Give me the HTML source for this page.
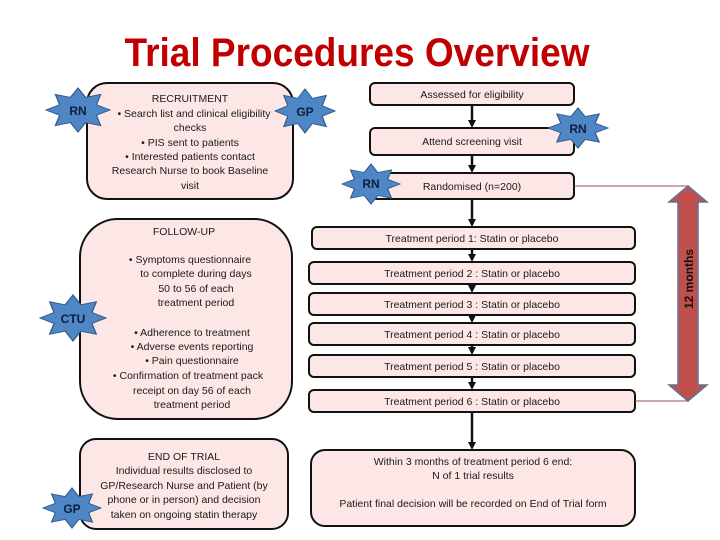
<!DOCTYPE html>
<html><head><meta charset="utf-8"><style>
html,body{margin:0;padding:0;background:#fff;}
svg{display:block;}
text{font-family:"Liberation Sans",sans-serif;fill:#1a1a1a;}
.t{font-size:10.5px;text-anchor:middle;}
.b{fill:#fde6e6;stroke:#111;stroke-width:2;}
.star{fill:#4f86c6;stroke:#2e5a8a;}
.sl{font-size:12px;font-weight:bold;text-anchor:middle;fill:#0d1f3a;}
</style></head><body>
<svg width="720" height="540" viewBox="0 0 720 540" xmlns="http://www.w3.org/2000/svg">
<defs>
<polygon id="st" points="1,0 .573,.237 .707,.707 .237,.573 0,1 -.237,.573 -.707,.707 -.573,.237 -1,0 -.573,-.237 -.707,-.707 -.237,-.573 0,-1 .237,-.573 .707,-.707 .573,-.237"/>
<marker id="ah" markerWidth="8" markerHeight="8" refX="5" refY="4" orient="auto" markerUnits="userSpaceOnUse"><path d="M0,0 L8,4 L0,8 z" fill="#111"/></marker>
</defs>
<text x="357" y="66" style="font-size:40px;font-weight:bold;fill:#c00000;text-anchor:middle" textLength="465" lengthAdjust="spacingAndGlyphs">Trial Procedures Overview</text>

<rect class="b" x="87" y="83" width="206" height="116" rx="20"/>
<text class="t" x="190" y="102">RECRUITMENT</text>
<text class="t" x="194" y="117">•  Search list and clinical eligibility</text>
<text class="t" x="190" y="131">checks</text>
<text class="t" x="190" y="146">•  PIS sent to patients</text>
<text class="t" x="190" y="160">•  Interested patients contact</text>
<text class="t" x="190" y="174">Research Nurse to book Baseline</text>
<text class="t" x="190" y="189">visit</text>

<rect class="b" x="80" y="219" width="212" height="200" rx="38"/>
<text class="t" x="184" y="235">FOLLOW-UP</text>
<text class="t" x="190" y="263">•      Symptoms questionnaire</text>
<text class="t" x="196" y="277">to complete during days</text>
<text class="t" x="196" y="292">50 to 56 of each</text>
<text class="t" x="196" y="306">treatment period</text>
<text class="t" x="192" y="336">•  Adherence to treatment</text>
<text class="t" x="192" y="350">•  Adverse events reporting</text>
<text class="t" x="192" y="364">•  Pain questionnaire</text>
<text class="t" x="188" y="379">•  Confirmation of treatment pack</text>
<text class="t" x="192" y="394">receipt on day 56 of each</text>
<text class="t" x="192" y="408">treatment period</text>

<rect class="b" x="80" y="439" width="208" height="90" rx="16"/>
<text class="t" x="184" y="460">END OF TRIAL</text>
<text class="t" x="184" y="474">Individual results disclosed to</text>
<text class="t" x="184" y="489">GP/Research Nurse and Patient (by</text>
<text class="t" x="184" y="503">phone or in person) and decision</text>
<text class="t" x="184" y="518">taken on ongoing statin therapy</text>

<g stroke="#111" stroke-width="2.5" marker-end="url(#ah)">
<line x1="472" y1="105" x2="472" y2="125"/>
<line x1="472" y1="155" x2="472" y2="170"/>
<line x1="472" y1="199" x2="472" y2="224"/>
<line x1="472" y1="249" x2="472" y2="259"/>
<line x1="472" y1="284" x2="472" y2="290"/>
<line x1="472" y1="315" x2="472" y2="320"/>
<line x1="472" y1="345" x2="472" y2="352"/>
<line x1="472" y1="377" x2="472" y2="387"/>
<line x1="472" y1="412" x2="472" y2="447"/>
</g>
<rect class="b" x="370" y="83" width="204" height="22" rx="5"/>
<text class="t" x="472" y="98">Assessed for eligibility</text>
<rect class="b" x="370" y="128" width="204" height="27" rx="5"/>
<text class="t" x="472" y="145">Attend screening visit</text>
<rect class="b" x="372" y="173" width="202" height="26" rx="5"/>
<text class="t" x="472" y="190">Randomised (n=200)</text>

<rect class="b" x="312" y="227" width="323" height="22" rx="5"/>
<text class="t" x="472" y="242">Treatment period 1: Statin or placebo</text>
<rect class="b" x="309" y="262" width="326" height="22" rx="5"/>
<text class="t" x="472" y="277">Treatment period 2 : Statin or placebo</text>
<rect class="b" x="309" y="293" width="326" height="22" rx="5"/>
<text class="t" x="472" y="308">Treatment period 3 : Statin or placebo</text>
<rect class="b" x="309" y="323" width="326" height="22" rx="5"/>
<text class="t" x="472" y="338">Treatment period 4 : Statin or placebo</text>
<rect class="b" x="309" y="355" width="326" height="22" rx="5"/>
<text class="t" x="472" y="370">Treatment period 5 : Statin or placebo</text>
<rect class="b" x="309" y="390" width="326" height="22" rx="5"/>
<text class="t" x="472" y="405">Treatment period 6 : Statin or placebo</text>

<rect class="b" x="311" y="450" width="324" height="76" rx="14"/>
<text class="t" x="473" y="465">Within 3 months of treatment period 6 end:</text>
<text class="t" x="473" y="479">N of 1 trial results</text>
<text class="t" x="473" y="507">Patient final decision will be recorded on End of Trial form</text>

<line x1="574" y1="186" x2="688" y2="186" stroke="#a05050" stroke-width="1"/>
<line x1="635" y1="401" x2="688" y2="401" stroke="#a05050" stroke-width="1"/>
<polygon points="688,186 707,202 698,202 698,385 707,385 688,401 669,385 678,385 678,202 669,202" fill="#c0504d" stroke="#5a7495" stroke-width="1.5"/>
<text x="0" y="0" transform="translate(693,279) rotate(-90)" style="font-size:12px;font-weight:bold;text-anchor:middle;fill:#111">12 months</text>

<use href="#st" class="star" transform="translate(78,110) scale(32,22)" style="stroke-width:0.04"/>
<text class="sl" x="78" y="115">RN</text>
<use href="#st" class="star" transform="translate(305,111) scale(30,22)" style="stroke-width:0.04"/>
<text class="sl" x="305" y="116">GP</text>
<use href="#st" class="star" transform="translate(578,128) scale(30,20)" style="stroke-width:0.04"/>
<text class="sl" x="578" y="133">RN</text>
<use href="#st" class="star" transform="translate(371,184) scale(29,20)" style="stroke-width:0.04"/>
<text class="sl" x="371" y="188">RN</text>
<use href="#st" class="star" transform="translate(73,318) scale(33,23)" style="stroke-width:0.04"/>
<text class="sl" x="73" y="323">CTU</text>
<use href="#st" class="star" transform="translate(72,508) scale(29,20)" style="stroke-width:0.04"/>
<text class="sl" x="72" y="513">GP</text>
</svg>
</body></html>
